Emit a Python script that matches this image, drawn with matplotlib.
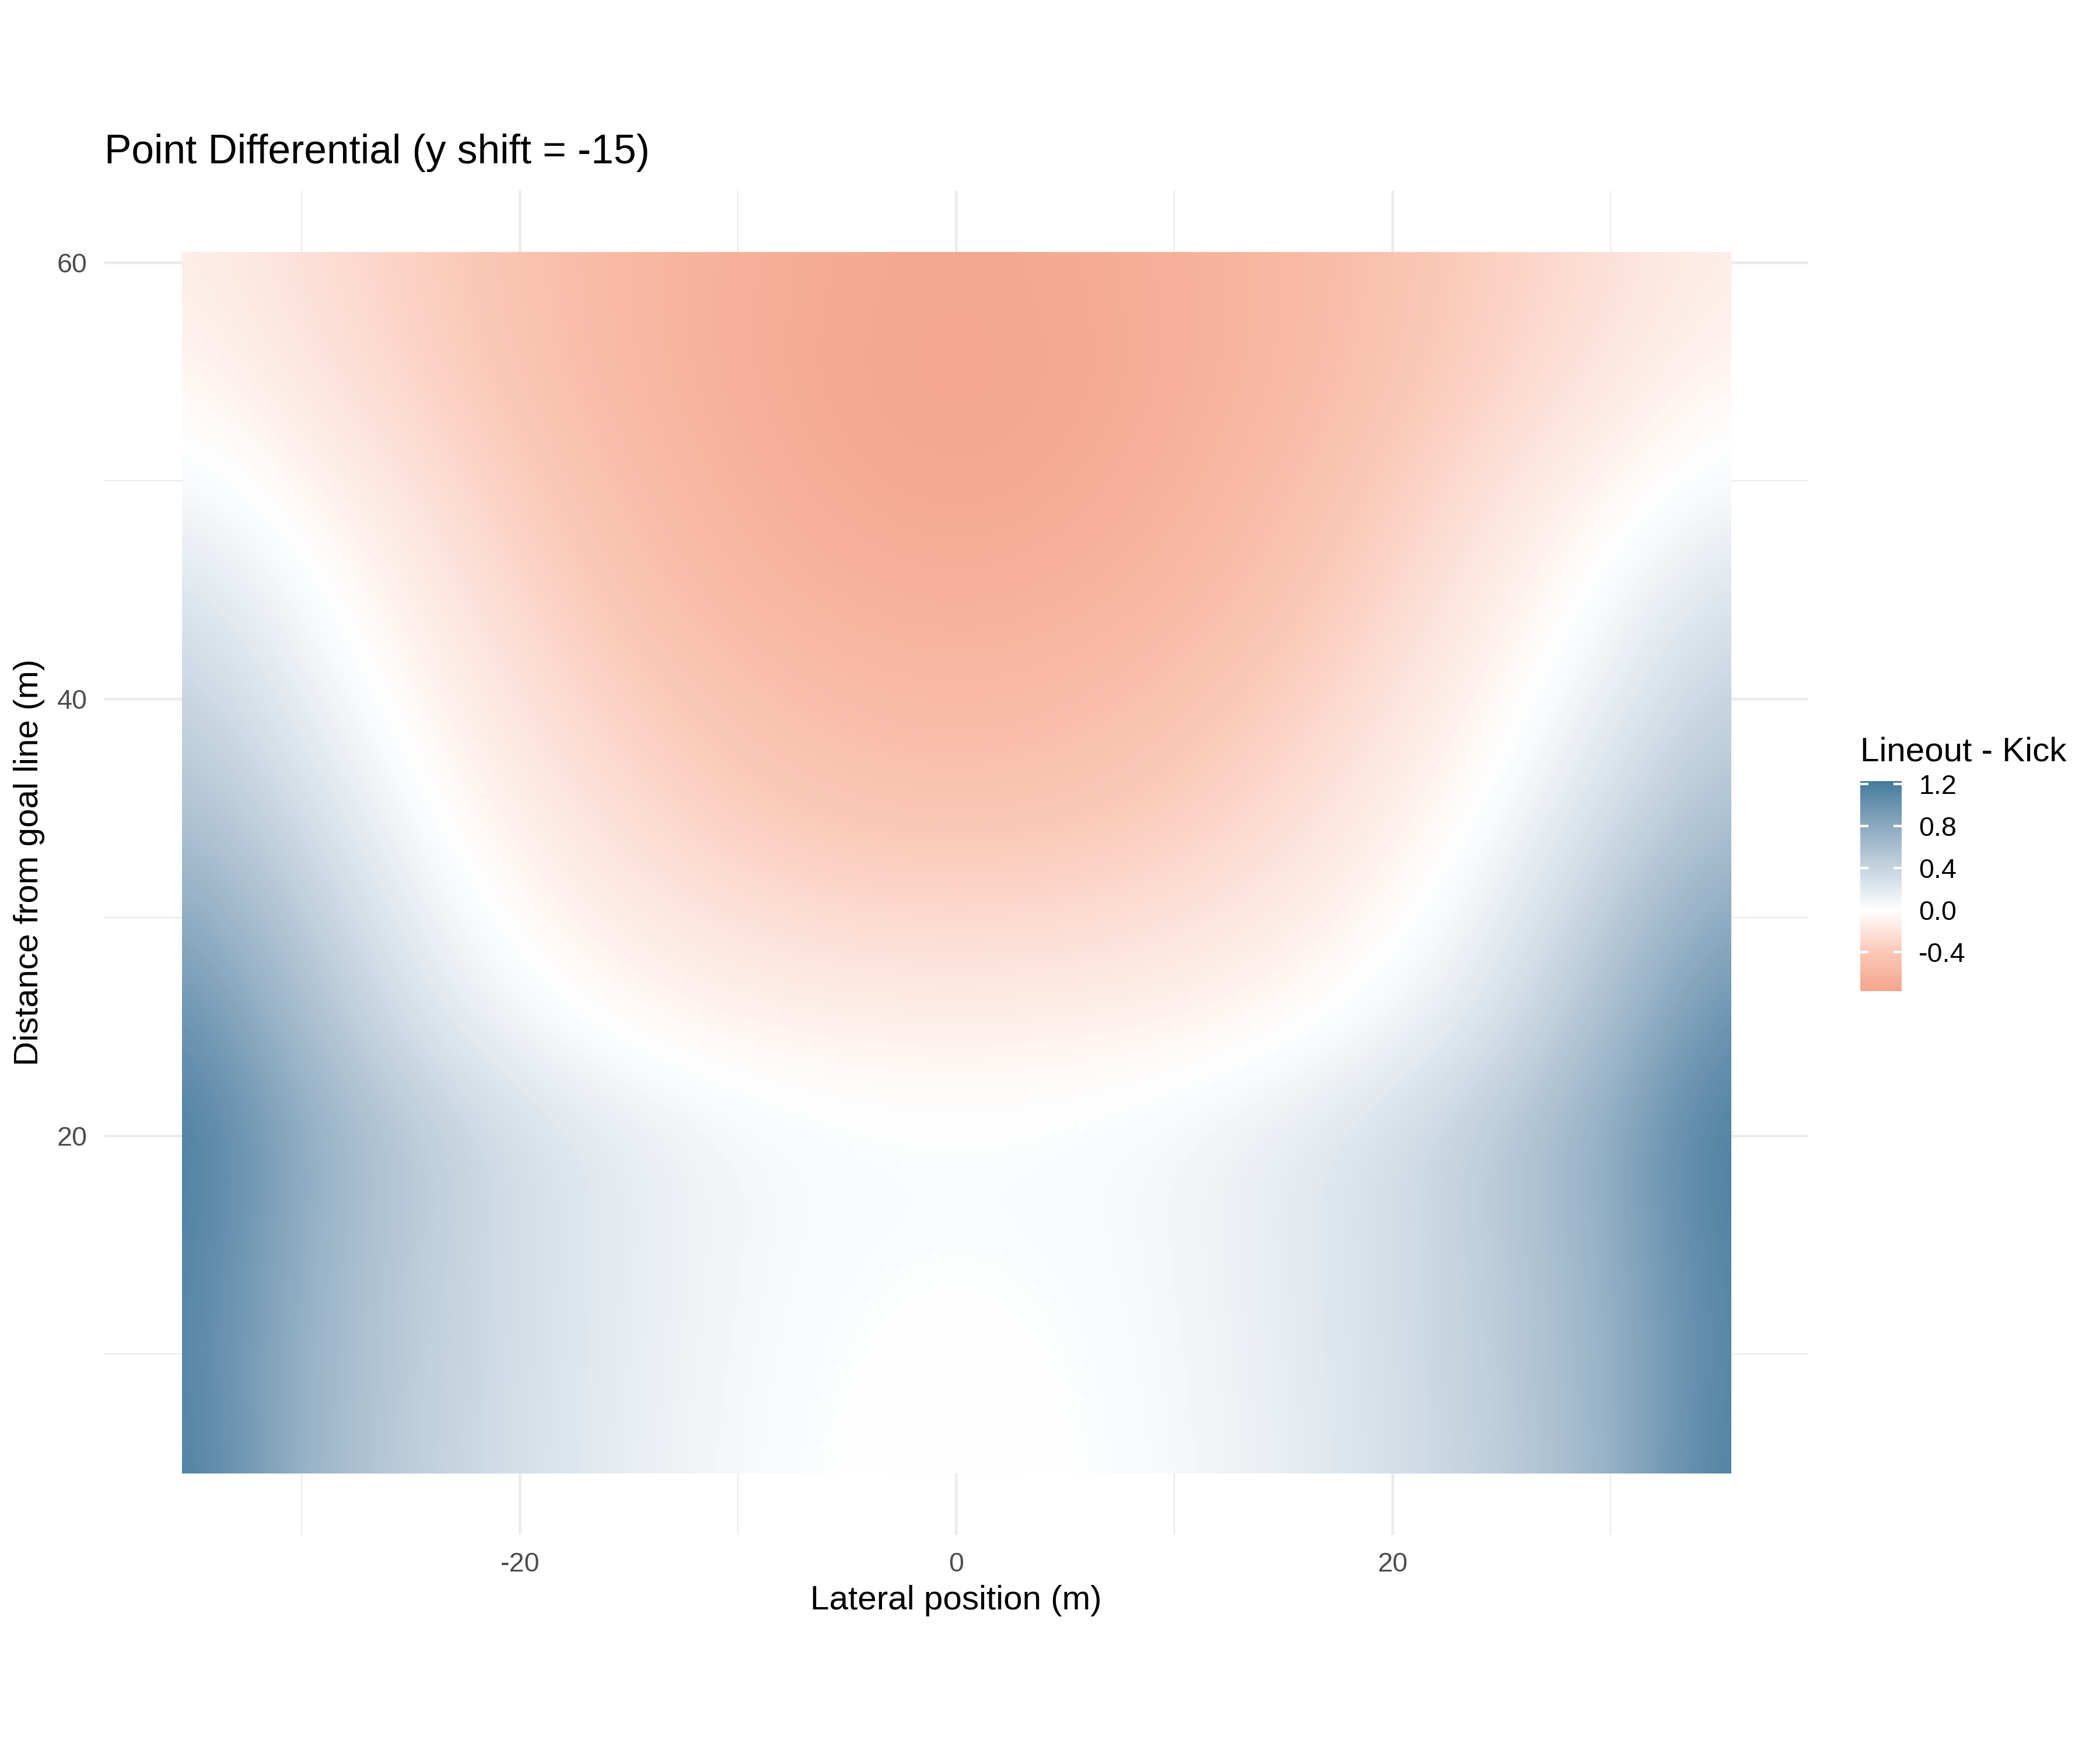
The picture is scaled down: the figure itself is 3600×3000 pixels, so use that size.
"""
Point differential heatmap (lineout minus kick) over the pitch,
drawn as a smoothed raster with a diverging blue/white/salmon scale.
"""

import numpy as np
import matplotlib.pyplot as plt
from matplotlib.colors import LinearSegmentedColormap, Normalize
from matplotlib.patches import Rectangle

plt.rcParams["font.family"] = ["Liberation Sans", "DejaVu Sans"]
plt.rcParams["axes.unicode_minus"] = False

# grid centres (m) of the values
lateral_m = [-35, -30, -25, -20, -15, -10, -5, 0, 5, 10, 15, 20, 25, 30, 35]
distance_m = [5, 10, 15, 20, 25, 30, 35, 40, 45, 50, 55, 60]

# point differential, one row per distance (bottom to top)
diff_y05 = [1.20, 0.70, 0.45, 0.29, 0.15, 0.06, 0.00, -0.02, 0.00, 0.06, 0.15, 0.29, 0.45, 0.70, 1.20]
diff_y10 = [1.15, 0.72, 0.46, 0.30, 0.16, 0.07, 0.01, -0.01, 0.01, 0.07, 0.16, 0.30, 0.46, 0.72, 1.15]
diff_y15 = [1.18, 0.74, 0.47, 0.30, 0.17, 0.08, 0.03, 0.02, 0.03, 0.08, 0.17, 0.30, 0.47, 0.74, 1.18]
diff_y20 = [1.22, 0.78, 0.50, 0.30, 0.17, 0.08, 0.04, 0.03, 0.04, 0.08, 0.17, 0.30, 0.50, 0.78, 1.22]
diff_y25 = [1.05, 0.62, 0.28, 0.08, -0.03, -0.08, -0.10, -0.11, -0.10, -0.08, -0.03, 0.08, 0.28, 0.62, 1.05]
diff_y30 = [0.82, 0.48, 0.15, -0.04, -0.14, -0.21, -0.26, -0.27, -0.26, -0.21, -0.14, -0.04, 0.15, 0.48, 0.82]
diff_y35 = [0.58, 0.30, 0.03, -0.12, -0.25, -0.36, -0.42, -0.44, -0.42, -0.36, -0.25, -0.12, 0.03, 0.30, 0.58]
diff_y40 = [0.42, 0.15, -0.05, -0.20, -0.34, -0.45, -0.52, -0.55, -0.52, -0.45, -0.34, -0.20, -0.05, 0.15, 0.42]
diff_y45 = [0.25, 0.04, -0.12, -0.28, -0.44, -0.56, -0.63, -0.66, -0.63, -0.56, -0.44, -0.28, -0.12, 0.04, 0.25]
diff_y50 = [0.05, -0.07, -0.20, -0.36, -0.50, -0.62, -0.70, -0.73, -0.70, -0.62, -0.50, -0.36, -0.20, -0.07, 0.05]
diff_y55 = [-0.06, -0.17, -0.30, -0.43, -0.56, -0.66, -0.73, -0.76, -0.73, -0.66, -0.56, -0.43, -0.30, -0.17, -0.06]
diff_y60 = [-0.12, -0.22, -0.33, -0.45, -0.56, -0.65, -0.71, -0.74, -0.71, -0.65, -0.56, -0.45, -0.33, -0.22, -0.12]

diff_rows = [diff_y05, diff_y10, diff_y15, diff_y20, diff_y25, diff_y30,
             diff_y35, diff_y40, diff_y45, diff_y50, diff_y55, diff_y60]

fill_min, fill_max = -0.77, 1.23
bar_ticks = [-0.4, 0.0, 0.4, 0.8, 1.2]

# diverging scale, white at zero
stops = [(-0.77, "#F4A58C"), (-0.4, "#FBC8B7"), (0.0, "#FFFFFF"),
         (0.4, "#C6D4E0"), (0.8, "#8DAAC1"), (1.23, "#457B9D")]
cmap = LinearSegmentedColormap.from_list(
    "lineout_kick",
    [((v - fill_min) / (fill_max - fill_min), c) for v, c in stops])
norm = Normalize(vmin=fill_min, vmax=fill_max)

fig = plt.figure(figsize=(12, 10), dpi=300)
ax = fig.add_axes([0.0497, 0.123, 0.8114, 0.768])

z = np.array(diff_rows)
dx = lateral_m[1] - lateral_m[0]
dy = distance_m[1] - distance_m[0]
extent = (lateral_m[0] - dx / 2, lateral_m[-1] + dx / 2,
          distance_m[0] - dy / 2, distance_m[-1] + dy / 2)
im = ax.imshow(z, origin="lower", extent=extent, cmap=cmap, norm=norm,
               interpolation="bicubic", aspect="auto", zorder=1)
# raster covers 1 m cells centred on -35..35 and 5..60
im.set_clip_path(Rectangle((-35.5, 4.5), 71, 56, transform=ax.transData))

ax.set_xlim(-39.05, 39.05)
ax.set_ylim(1.7, 63.3)
ax.set_xticks([-20, 0, 20])
ax.set_xticks([-30, -10, 10, 30], minor=True)
ax.set_yticks([20, 40, 60])
ax.set_yticks([10, 30, 50], minor=True)
ax.set_axisbelow(True)
ax.grid(which="major", color="#EBEBEB", linewidth=1.1)
ax.grid(which="minor", color="#EBEBEB", linewidth=0.55)
ax.tick_params(which="both", length=0, labelsize=11.2, labelcolor="#4D4D4D")
ax.tick_params(axis="x", pad=7.0)
ax.tick_params(axis="y", pad=7.0)
for s in ax.spines.values():
    s.set_visible(False)

fig.text(179 / 3600, 1 - 262 / 3000, "Point Differential (y shift = -15)",
         fontsize=16.7, ha="left", va="center")
fig.text(1639 / 3600, 1 - 2744 / 3000, "Lateral position (m)",
         fontsize=14, ha="center", va="center")
fig.text(50 / 3600, 1 - 1478 / 3000, "Distance from goal line (m)",
         fontsize=14, ha="center", va="center", rotation=90)

# colour bar legend
cax = fig.add_axes([3189 / 3600, 1 - 1699 / 3000, 71 / 3600, 360 / 3000])
cb = fig.colorbar(im, cax=cax, ticks=bar_ticks)
cb.outline.set_visible(False)
cax.tick_params(length=0, labelsize=11.2, pad=7)
cax.set_yticklabels([f"{t:.1f}" for t in bar_ticks])
cax.hlines(bar_ticks, 0, 0.2, colors="white", linewidth=1)
cax.hlines(bar_ticks, 0.8, 1, colors="white", linewidth=1)
fig.text(3189 / 3600, 1 - 1290 / 3000, "Lineout - Kick",
         fontsize=14, ha="left", va="center")

fig.savefig("out.png", dpi=300, facecolor="white")
plt.close(fig)
